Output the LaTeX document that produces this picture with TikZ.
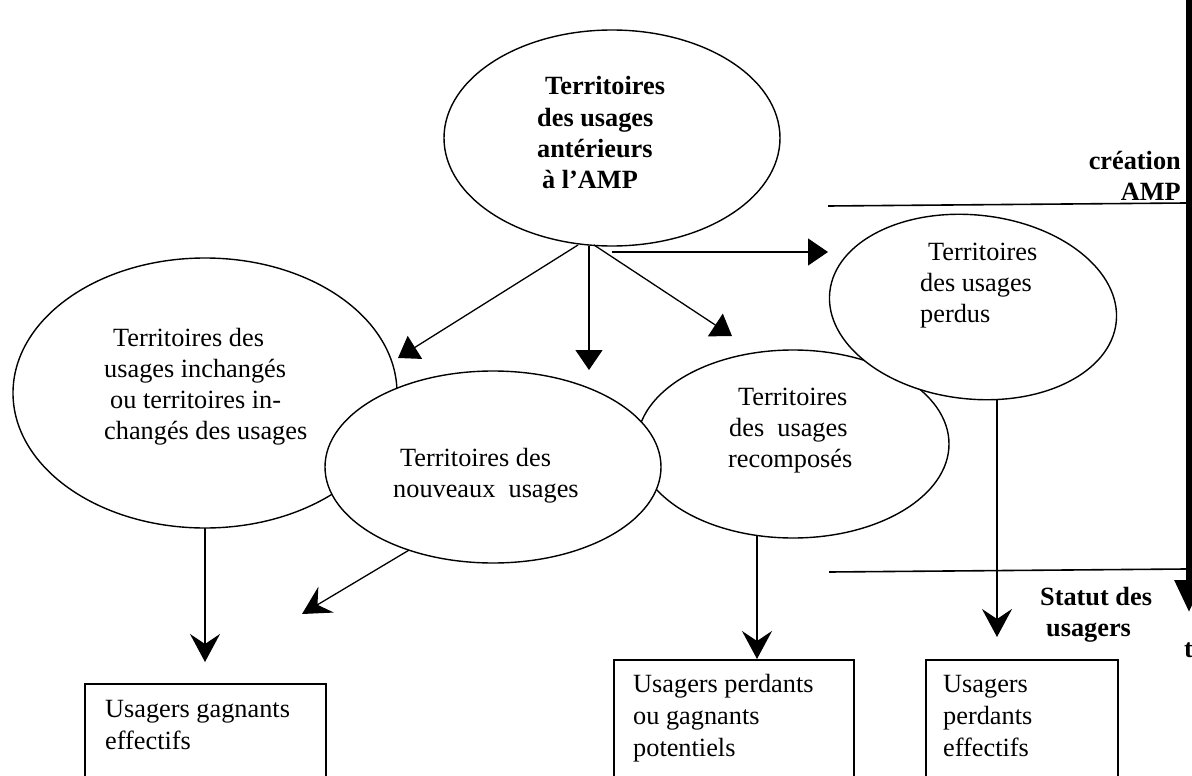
\documentclass[tikz,border=0pt]{standalone}
\usepackage{fontspec}
\setmainfont{Liberation Serif}
\usetikzlibrary{shapes.geometric,arrows.meta}
\begin{document}
\begin{tikzpicture}[x=1pt,y=-1pt,
  ell/.style={draw,ellipse,line width=1.4pt,inner sep=0pt,fill=white},
  txt/.style={anchor=base west,inner sep=0pt,font=\fontsize{26.3}{31.5}\selectfont},
  btxt/.style={anchor=base west,inner sep=0pt,font=\fontsize{26.3}{31.5}\selectfont\bfseries},
  boxnode/.style={draw,line width=1.6pt,anchor=north west,inner sep=0pt},
  conn/.style={line width=1.3pt},
  tri/.style={conn,-{Triangle[length=20pt,width=27pt]}},
  stl/.style={conn,-{Stealth[length=28pt,width=30pt,inset=10pt]}}]
\useasboundingbox (0,0) rectangle (1192,776);

% connector start points hidden under ellipses
\coordinate (lstart) at (205,450);
\coordinate (rstart) at (757,500);
\coordinate (pstart) at (997,360);
\coordinate (mstart) at (441,531);
% connector end points
\coordinate (lend) at (205,662);
\coordinate (mend) at (302,614);
\coordinate (pend) at (997,637);

\draw[stl] (lstart) -- (lend);
\node[ell,minimum width=384pt,minimum height=270pt] (L) at (205,393) {};
\draw[stl] (rstart) -- (757,659);
\node[ell,minimum width=312pt,minimum height=188pt] (R) at (793,444) {};
\draw[stl] (pstart) -- (pend);
\node[ell,minimum width=288pt,minimum height=184pt,rotate=-6] (P) at (973,307) {};
\draw[stl] (mstart) -- (mend);
\node[ell,minimum width=336pt,minimum height=192pt] (M) at (493,467) {};
\node[ell,minimum width=336pt,minimum height=216pt] (T) at (612,138) {};

% arrows from top ellipse
\coordinate (ts1) at (578,245);
\coordinate (ts2) at (589,246);
\coordinate (ts3) at (594,245);
\coordinate (ts4) at (612,252);
\coordinate (te1) at (398,358);
\coordinate (te2) at (589,370);
\coordinate (te3) at (732,336);
\coordinate (te4) at (828,252);
\draw[tri] (ts1) -- (te1);
\draw[tri] (ts2) -- (te2);
\draw[tri] (ts3) -- (te3);
\draw[tri] (ts4) -- (te4);

% boxes
\node[boxnode,minimum width=241pt,minimum height=130pt] (B1) at (84,683) {};
\node[boxnode,minimum width=240pt,minimum height=150pt] (B2) at (613,659) {};
\node[boxnode,minimum width=192pt,minimum height=150pt] (B3) at (925,659) {};

% time axis and separators
\coordinate (h1) at (828,206);
\coordinate (h2) at (1186,203);
\coordinate (h3) at (829,572);
\coordinate (h4) at (1186,569);
\draw[line width=1.6pt] (h1) -- (h2);
\draw[line width=1.6pt] (h3) -- (h4);
\coordinate (v1) at (1189,-2);
\coordinate (v2) at (1189,612);
\draw[line width=6pt,-{Triangle[length=32pt,width=28pt]}] (v1) -- (v2);

% texts
\node[btxt] (t1) at (545,95) {Territoires};
\node[btxt] (t2) at (537,126) {des usages};
\node[btxt] (t3) at (537,157) {antérieurs};
\node[btxt] (t4) at (542,188) {à l’AMP};

\node[txt] (l1) at (113,346) {Territoires des};
\node[txt] (l2) at (104,377) {usages inchangés};
\node[txt] (l3) at (110,408) {ou territoires in-};
\node[txt] (l4) at (104,439) {changés des usages};

\node[txt] (m1) at (400,466) {Territoires des};
\node[txt] (m2) at (393,497) {nouveaux\ \ usages};

\node[txt] (r1) at (738,405) {Territoires};
\node[txt] (r2) at (729,436) {des\ \ usages};
\node[txt] (r3) at (728,467) {recomposés};

\node[txt] (p1) at (928,260) {Territoires};
\node[txt] (p2) at (920,291) {des usages};
\node[txt] (p3) at (920,322) {perdus};

\node[btxt,anchor=base east] (c1) at (1181,169) {création};
\node[btxt,anchor=base east] (c2) at (1181,200) {AMP};
\node[btxt] (s1) at (1040,605) {Statut des};
\node[btxt] (s2) at (1046,636) {usagers};
\node[btxt] (tt) at (1184,657) {t};

\node[txt] (b1a) at (105,717) {Usagers gagnants};
\node[txt] (b1b) at (105,749) {effectifs};
\node[txt] (b2a) at (633,692) {Usagers perdants};
\node[txt] (b2b) at (633,724) {ou gagnants};
\node[txt] (b2c) at (633,756) {potentiels};
\node[txt] (b3a) at (943,692) {Usagers};
\node[txt] (b3b) at (943,724) {perdants};
\node[txt] (b3c) at (943,756) {effectifs};
\end{tikzpicture}
\end{document}
